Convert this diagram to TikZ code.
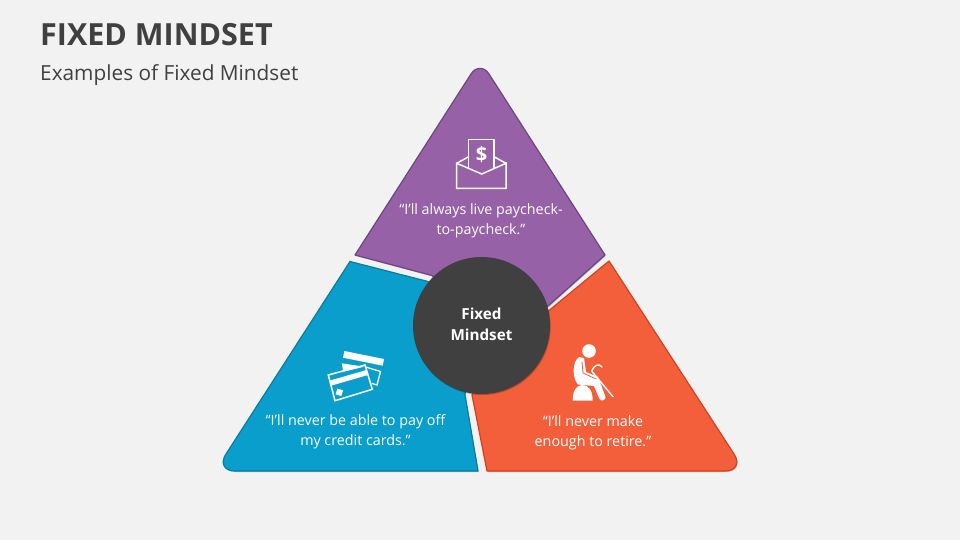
\documentclass[tikz,border=0pt]{standalone}
\usepackage{fontspec}
\setmainfont{Open Sans}
\usetikzlibrary{shadows}
\definecolor{pagebg}{HTML}{F2F2F2}
\definecolor{inkgray}{HTML}{404040}
\definecolor{purplefill}{HTML}{9661A6}
\definecolor{purpleline}{HTML}{6E4682}
\definecolor{bluefill}{HTML}{099ECB}
\definecolor{blueline}{HTML}{0A7CA3}
\definecolor{orangefill}{HTML}{F45F3B}
\definecolor{orangeline}{HTML}{D8401A}
\tikzset{
  softshadow/.style={drop shadow={shadow xshift=0.7pt,shadow yshift=-1pt,opacity=0.25,fill=black}},
  piece/.style={line width=1.2pt,softshadow},
  quote/.style={text=white,align=center,font=\fontsize{14.3}{20}\selectfont},
  icon/.style={draw=white,line width=1.5pt,line cap=butt,line join=miter},
  iconfill/.style={fill=white,draw=none}
}
\begin{document}
\begin{tikzpicture}[line cap=round,line join=round,x=1pt,y=-1pt]
\useasboundingbox (0,0) rectangle (960,540);
\fill[pagebg] (0,0) rectangle (960,540);
% title
\node[anchor=west,inner sep=0pt,text=inkgray,font=\fontsize{30.5}{34}\selectfont\bfseries] (title) at (40,35) {FIXED MINDSET};
\node[anchor=west,inner sep=0pt,text=inkgray,font=\fontsize{20.8}{24}\selectfont] (subtitle) at (40,75) {Examples of Fixed Mindset};
% three pieces
\draw[piece,fill=purplefill,draw=purpleline] (355,255) -- (432,275.5) -- (481,325) -- (548,306) -- (605,255)
   -- (489,74) .. controls (484.5,66.5) and (475.5,66.5) .. (471,74) -- cycle;
\draw[piece,fill=bluefill,draw=blueline] (350,261.5) -- (428,281.5) -- (470,330) -- (465,395) -- (478,471)
   -- (235,471) .. controls (224,471) and (220,463) .. (226,454) -- cycle;
\draw[piece,fill=orangefill,draw=orangeline] (609,261) -- (549,310.5) -- (490,330) -- (472,395) -- (487,471)
   -- (725,471) .. controls (736,471) and (740,463) .. (734,454) -- cycle;
% center
\node[circle,fill=inkgray,minimum size=137pt,inner sep=0pt,softshadow] (center) at (481.5,325.5) {};
\node[text=white,align=center,font=\fontsize{15.2}{21}\selectfont\bfseries] (centertext) at (481.5,324.5) {Fixed\\Mindset};
% envelope
\draw[icon] (456.7,163.3) -- (456.7,188.3) -- (506,188.3) -- (506,163.3) -- (481.7,174) -- cycle;
\draw[icon] (468.7,168.3) -- (468.7,139.3) -- (494,139.3) -- (494,168.3);
\draw[icon] (456.7,163.3) -- (468.7,156.7) (506,163.3) -- (494,156.7);
\node[text=white,inner sep=0pt,font=\fontsize{20}{22}\selectfont\bfseries] (dollar) at (481.5,154) {\$};
\node[quote] (quotetop) at (481,220.5) {“I’ll always live paycheck-\\to-paycheck.”};
% cards
\fill[iconfill] (344.3,351) -- (384,359) -- (382.7,365.7) -- (343,357.7) -- cycle;
\fill[iconfill] (341.7,363.3) -- (364.3,366.7) -- (343.3,371.7) -- cycle;
\draw[icon,line width=1.3pt] (365.5,367) -- (380.5,371.5) -- (377,385) -- (371.7,383.3);
\draw[icon] (328.3,375) -- (365,365) -- (372.3,389.3) -- (335,400.7) -- cycle;
\fill[iconfill] (330,380.5) -- (366.7,370) -- (368,375) -- (331.7,385.5) -- cycle;
\fill[iconfill,rotate around={-16:(339.3,392.3)}] (336.3,389.3) rectangle (342.3,395.3);
\node[quote] (quoteleft) at (355.5,432) {“I’ll never be able to pay off\\my credit cards.”};
% retired person
\fill[white] (589,351) circle (6.8);
\fill[white] (572.7,400.7) .. controls (572.7,390) and (577,385) .. (582.5,385) .. controls (588,385) and (592.7,390) .. (592.7,400.7) -- cycle;
\fill[white] (579,357) -- (584,358) -- (586,372) -- (598,377) -- (600,382) -- (605.5,397) .. controls (606,400) and (601,402) .. (599.5,399) -- (594,386) -- (578,384.5) .. controls (572,378) and (572,362) .. (579,357) -- cycle;
\draw[draw=orangefill,line width=0.8pt] (582,362) -- (583,373) -- (596,379);
\draw[draw=white,line width=1.4pt] (591.7,371) .. controls (594,365) and (599,363) .. (602,367);
\draw[draw=white,line width=1.4pt] (592,371.5) -- (613,396.7);
\node[quote] (quoteright) at (593,432.5) {“I’ll never make\\enough to retire.”};
\end{tikzpicture}
\end{document}
